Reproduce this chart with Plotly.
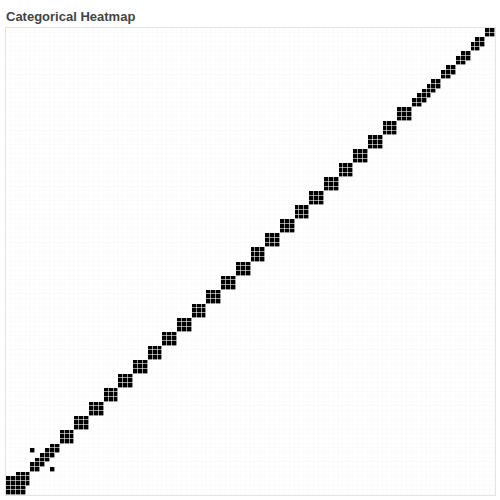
import plotly.graph_objects as go

# Category labels (100 categories, shared by both axes; labels are hidden in the chart)
categories = ["C%02d" % i for i in range(100)]

# Groups of categories that co-occur (each group fills a square on the diagonal)
square_groups = [
    [0, 1, 2, 3], [2, 3, 4],
    [11, 12, 13], [14, 15, 16], [17, 18, 19], [20, 21, 22], [23, 24, 25],
    [26, 27, 28], [29, 30, 31], [32, 33, 34], [35, 36, 37], [38, 39, 40],
    [41, 42, 43], [44, 45, 46], [47, 48, 49], [50, 51, 52], [53, 54, 55],
    [56, 57, 58], [59, 60, 61], [62, 63, 64], [65, 66, 67], [68, 69, 70],
    [71, 72, 73], [74, 75, 76], [77, 78, 79], [80, 81, 82],
    [98, 99],
]
# Chained pairs (tridiagonal bands)
pair_links = [
    [5, 6], [6, 7], [7, 8], [8, 9], [9, 10],
    [5, 9],
    [83, 84], [84, 85], [85, 86], [86, 87], [87, 88],
    [89, 90], [90, 91],
    [92, 93], [93, 94],
    [95, 96], [96, 97],
]

n = len(categories)
z = [[0] * n for _ in range(n)]
for g in square_groups + pair_links:
    for a in g:
        for b in g:
            z[a][b] = 1

fig = go.Figure(go.Heatmap(
    x=categories, y=categories, z=z,
    colorscale=[[0, "#ffffff"], [1, "#000000"]],
    zmin=0, zmax=1, showscale=False, xgap=0.6, ygap=0.6,
    hoverinfo="skip",
))

axis_style = dict(
    type="category", categoryorder="array", categoryarray=categories,
    showticklabels=False, ticks="", showgrid=False, zeroline=False,
    showline=True, mirror=True, linecolor="#e4e4e4", linewidth=1,
)
fig.update_xaxes(**axis_style)
fig.update_yaxes(**axis_style)

fig.update_layout(
    width=500, height=500,
    margin=dict(l=6, r=5, t=28, b=5),
    paper_bgcolor="white", plot_bgcolor="#f9f9f9",
    title=dict(
        text="<b>Categorical Heatmap</b>",
        xref="container", yref="container",
        x=6 / 500, xanchor="left",
        y=1 - 16.5 / 500, yanchor="middle",
        font=dict(family="Liberation Sans, Arial, sans-serif", size=13, color="#444444"),
    ),
)

fig.write_html("out.html")
